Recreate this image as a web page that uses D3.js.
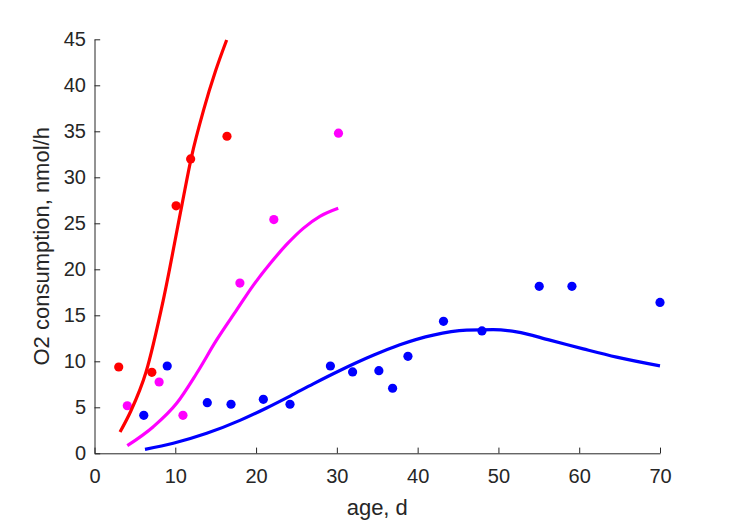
<!DOCTYPE html>
<html>
<head>
<meta charset="utf-8">
<script src="https://cdn.jsdelivr.net/npm/d3@7"></script>
<style>
  html, body { margin: 0; padding: 0; background: #fff; }
  svg { display: block; }
  text { font-family: "Liberation Sans", Arial, Helvetica, sans-serif; fill: #262626; }
</style>
</head>
<body>
<svg id="chart" width="729" height="521"></svg>
<script>
// ---- data ----
const xTicks = [0, 10, 20, 30, 40, 50, 60, 70];
const yTicks = [0, 5, 10, 15, 20, 25, 30, 35, 40, 45];

const redX = [3.0, 7.1, 10.1, 11.9, 16.4];
const redY = [9.38, 8.8, 26.9, 32.0, 34.46];

const magentaX = [4.06, 8.0, 10.95, 18.0, 22.2, 30.2];
const magentaY = [5.17, 7.75, 4.13, 18.5, 25.4, 34.8];

const blueX = [6.1, 9.0, 13.96, 16.9, 20.9, 24.2, 29.2, 31.95, 35.2, 36.9, 38.8, 43.2, 47.96, 55.05, 59.1, 70.0];
const blueY = [4.13, 9.49, 5.5, 5.33, 5.87, 5.33, 9.49, 8.84, 8.98, 7.07, 10.54, 14.35, 13.3, 18.15, 18.15, 16.4];

// fitted curves, sampled along the drawn lines
const redFitX = [3.16, 4.5, 6.38, 8.5, 10.8, 12.0, 13.5, 15.0, 16.36];
const redFitY = [2.32, 4.6, 8.84, 16.6, 26.9, 32.2, 37.3, 41.6, 44.92];

const magentaFitX = [4.06, 7.28, 10.17, 12.65, 15.12, 17.6, 19.65, 21.72, 23.79, 25.84, 27.9, 30.17];
const magentaFitY = [0.83, 2.89, 5.43, 8.70, 12.32, 15.58, 18.25, 20.6, 22.7, 24.45, 25.75, 26.63];

const blueFitX = [6.25, 9.75, 13.89, 18.0, 21.3, 24.2, 27.08, 30.38, 34.5, 37.8, 41.93, 46.06, 49.36, 52.25, 56.37, 60.5, 64.63, 70.0];
const blueFitY = [0.43, 1.09, 2.17, 3.58, 4.93, 6.22, 7.55, 9.0, 10.65, 11.8, 12.85, 13.38, 13.45, 13.2, 12.3, 11.35, 10.45, 9.5];

const xLabel = "age, d";
const yLabel = "O2 consumption, nmol/h";

// ---- drawing ----
const svg = d3.select("#chart");
const x = d3.scaleLinear().domain([0, 70]).range([94.5, 660]);
const y = d3.scaleLinear().domain([0, 45]).range([453.3, 39.3]);
const axisColor = "#262626";

const zip = (xs, ys) => xs.map((v, i) => [v, ys[i]]);
const line = d3.line().x(d => x(d[0])).y(d => y(d[1])).curve(d3.curveMonotoneX);

const series = [
  { fx: redFitX, fy: redFitY, px: redX, py: redY, color: "#ff0000" },
  { fx: magentaFitX, fy: magentaFitY, px: magentaX, py: magentaY, color: "#ff00ff" },
  { fx: blueFitX, fy: blueFitY, px: blueX, py: blueY, color: "#0000ff" }
];

series.forEach(s => {
  svg.append("g").selectAll("circle")
    .data(zip(s.px, s.py)).enter().append("circle")
    .attr("cx", d => x(d[0])).attr("cy", d => y(d[1]))
    .attr("r", 4.6).attr("fill", s.color);
});
series.forEach(s => {
  svg.append("path").datum(zip(s.fx, s.fy))
    .attr("d", line).attr("fill", "none")
    .attr("stroke", s.color).attr("stroke-width", 3.2)
    .attr("stroke-linejoin", "round");
});

// axes (MATLAB style: inward ticks, no box)
const xAxis = d3.axisBottom(x).tickValues(xTicks).tickSizeInner(-5.7).tickSizeOuter(0).tickPadding(15.5);
const yAxis = d3.axisLeft(y).tickValues(yTicks).tickSizeInner(-5.7).tickSizeOuter(0).tickPadding(8.5);

const gx = svg.append("g").attr("transform", `translate(0,${y(0)})`).call(xAxis);
const gy = svg.append("g").attr("transform", `translate(${x(0)},0)`).call(yAxis);
[gx, gy].forEach(g => {
  g.select(".domain").attr("stroke", axisColor).attr("stroke-width", 1);
  g.selectAll(".tick line").attr("stroke", axisColor).attr("stroke-width", 1);
  g.selectAll(".tick text").attr("fill", axisColor)
    .style("font-family", '"Liberation Sans", Arial, sans-serif').style("font-size", "20px");
});
gx.selectAll(".tick text").attr("dy", "0.71em");

svg.append("text").attr("x", (x(0) + x(70)) / 2).attr("y", 515)
  .attr("text-anchor", "middle").style("font-size", "22px").text(xLabel);
svg.append("text").attr("transform", `translate(49,${(y(0) + y(45)) / 2}) rotate(-90)`)
  .attr("text-anchor", "middle").style("font-size", "22px").text(yLabel);
</script>
</body>
</html>
